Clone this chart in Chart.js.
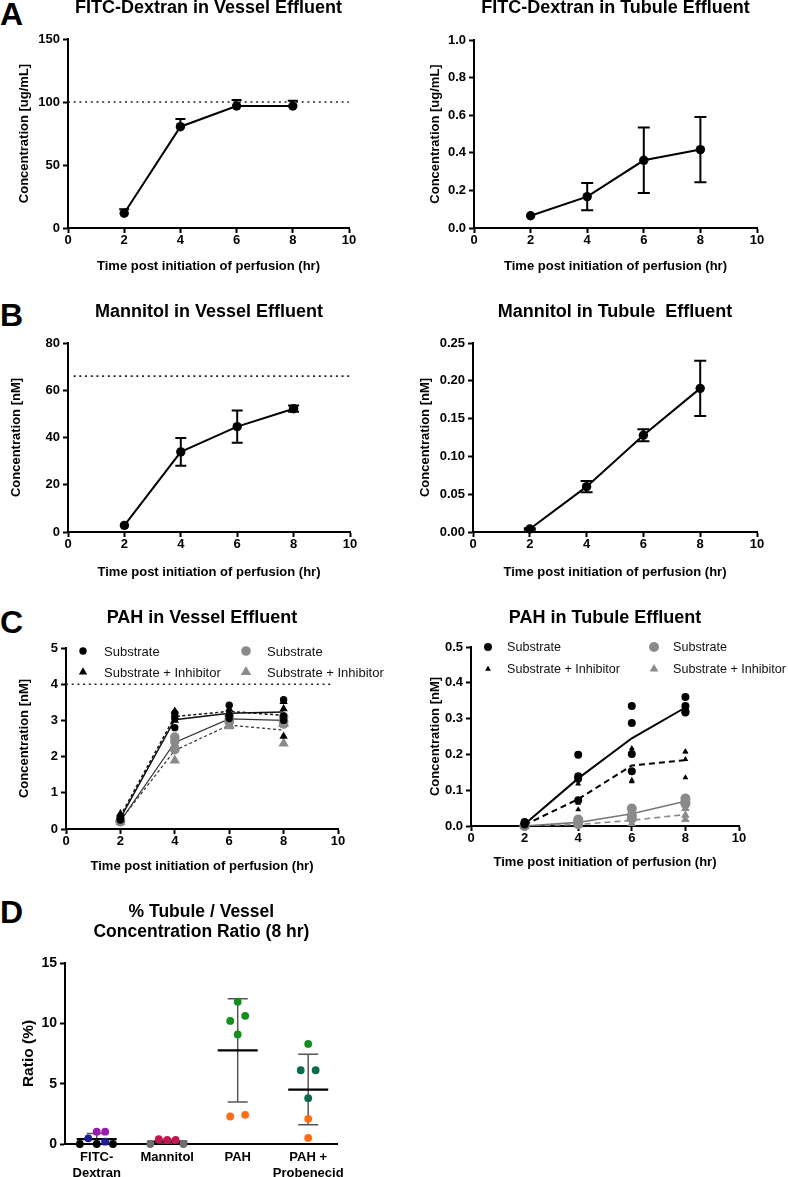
<!DOCTYPE html>
<html>
<head>
<meta charset="utf-8">
<script src="https://cdn.jsdelivr.net/npm/chart.js@4.4.1/dist/chart.umd.min.js"></script>
<style>
  body { margin: 0; background: #fff; width: 788px; height: 1177px; position: relative; overflow: hidden; font-family: "Liberation Sans", Arial, sans-serif; }
  .tag { position: absolute; left: 0; font-size: 32px; line-height: 32px; font-weight: bold; color: #000; }
</style>
</head>
<body>
<div class="tag" style="top:-2px">A</div>
<div class="tag" style="top:299px">B</div>
<div class="tag" style="top:606px">C</div>
<div class="tag" style="top:896px">D</div>
<script>
// ---- data ----
const hours = [2, 4, 6, 8];

// A: FITC-Dextran
const fitcVesselMean = [11.7, 80.4, 96.8, 96.8];
const fitcVesselErr = [3.1, 6.1, 4.8, 4.2];
const fitcVesselRef = 100;
const fitcTubuleMean = [0.065, 0.167, 0.36, 0.417];
const fitcTubuleErr = [0, 0.072, 0.174, 0.173];

// B: Mannitol
const mannitolVesselMean = [2.8, 33.9, 44.6, 52.2];
const mannitolVesselErr = [0, 5.9, 6.8, 1.3];
const mannitolVesselRef = 66;
const mannitolTubuleMean = [0.004, 0.060, 0.128, 0.190];
const mannitolTubuleErr = [0.001, 0.0075, 0.008, 0.0365];

// C: PAH, replicates per time point (black = first set, grey = second set)
const pahVesselSub = [[0.35, 0.3, 0.25], [3.05, 2.8, 3.2], [3.42, 3.15, 3.05], [3.57, 3.12, 3.0]];
const pahVesselInh = [[0.42, 0.35, 0.3], [3.25, 3.16, 3.0], [3.31, 3.2, 3.18], [3.32, 3.52, 2.56]];
const pahVesselSub2 = [[0.2, 0.25, 0.22], [2.54, 2.19, 2.42], [3.02, 2.95, 3.12], [2.9, 2.97, 3.1]];
const pahVesselInh2 = [[0.2, 0.28, 0.25], [1.89, 2.28, 2.32], [2.84, 2.88, 2.85], [2.36, 2.9, 2.92]];
const pahVesselSubMean = [0.3, 3.02, 3.2, 3.23];
const pahVesselInhMean = [0.36, 3.11, 3.25, 3.14];
const pahVesselSub2Mean = [0.22, 2.39, 3.04, 3.0];
const pahVesselInh2Mean = [0.24, 2.17, 2.87, 2.73];
const pahVesselRef = 4;

const pahTubuleSub = [[0.011, 0.006, 0.004, 0.008], [0.199, 0.139, 0.132, 0.072], [0.335, 0.288, 0.201, 0.153], [0.36, 0.335, 0.32, 0.317]];
const pahTubuleInh = [[0.004, 0.003, 0.002], [0.118, 0.072, 0.064, 0.046], [0.217, 0.207, 0.128, 0.124], [0.207, 0.186, 0.135, 0.208]];
const pahTubuleSub2 = [[0, 0, 0], [0.018, 0.011, 0.005], [0.049, 0.021, 0.03], [0.077, 0.067, 0.062]];
const pahTubuleInh2 = [[0, 0], [0.003, 0.005], [0.007, 0.02, 0.018], [0.049, 0.018, 0.03]];
const pahTubuleSubMean = [0.005, 0.133, 0.245, 0.331];
const pahTubuleInhMean = [0.003, 0.075, 0.169, 0.184];
const pahTubuleSub2Mean = [0, 0.01, 0.034, 0.069];
const pahTubuleInh2Mean = [0, 0.004, 0.016, 0.032];

// D: ratio at 8 hr
const ratioGroups = [['FITC-', 'Dextran'], ['Mannitol'], ['PAH'], ['PAH +', 'Probenecid']];
const ratioMean = [0.41, 0.2, 7.76, 4.51];
const ratioSD = [0.47, 0.2, 4.27, 2.92];
const fitcBlack = [0, 0, 0];
const fitcNavy = [0.47, 0.19];
const fitcPurple = [1.02, 1.02];
const mannitolGrey = [0, 0];
const mannitolRed = [0.4, 0.33, 0.33];
const pahGreen = [11.78, 10.2, 10.62, 9.08];
const pahOrange = [2.28, 2.42];
const probGreen = [8.29];
const probTeal = [6.11, 6.11, 3.8];
const probOrange = [2.09, 0.5];

const xTitle = 'Time post initiation of perfusion (hr)';

// ---- helpers ----
Chart.defaults.font.family = "'Liberation Sans', Arial, sans-serif";
Chart.defaults.color = '#000';

const tickFont = { size: 13, weight: 'bold' };
const titleFont = { size: 13, weight: 'bold' };
const GREY = '#8a8a8a';

const errorBarPlugin = {
  id: 'errorBars',
  beforeDatasetsDraw(chart, args, opts) { if (opts.under) drawErrors(chart); },
  afterDatasetsDraw(chart, args, opts) { if (!opts.under) drawErrors(chart); }
};
function drawErrors(chart) {
  const { ctx, chartArea, scales: { x, y } } = chart;
  ctx.save();
  ctx.beginPath();
  ctx.rect(chartArea.left - 20, chartArea.top - 20, chartArea.width + 40, chartArea.height + 20);
  ctx.clip();
  chart.data.datasets.forEach(ds => {
    if (!ds.yErr) return;
    ctx.strokeStyle = ds.errColor || '#000';
    ctx.lineWidth = ds.errWidth || 2;
    const cap = ds.capHalf || 5;
    ds.data.forEach((p, j) => {
      const e = ds.yErr[j];
      if (!e) return;
      const px = x.getPixelForValue(p.x);
      const top = y.getPixelForValue(p.y + e);
      const bot = y.getPixelForValue(ds.errUpOnly ? p.y : p.y - e);
      ctx.beginPath();
      ctx.moveTo(px, top); ctx.lineTo(px, bot);
      ctx.moveTo(px - cap, top); ctx.lineTo(px + cap, top);
      if (!ds.errUpOnly) { ctx.moveTo(px - cap, bot); ctx.lineTo(px + cap, bot); }
      ctx.stroke();
    });
  });
  ctx.restore();
}

function drawMarker(ctx, style, r, x, y) {
  ctx.beginPath();
  if (style === 'triangle') {
    ctx.moveTo(x, y - r);
    ctx.lineTo(x + r * 0.866, y + r * 0.5);
    ctx.lineTo(x - r * 0.866, y + r * 0.5);
    ctx.closePath();
  } else {
    ctx.arc(x, y, r, 0, Math.PI * 2);
  }
  ctx.fill();
}

// 2 x 2 legend placed inside the plot area
const cellLegendPlugin = {
  id: 'cellLegend',
  afterDraw(chart, args, opts) {
    if (!opts.cols) return;
    const { ctx, chartArea } = chart;
    chart.data.datasets.forEach(ds => {
      if (!ds.legendCell) return;
      const mx = chartArea.left + opts.cols[ds.legendCell[0]];
      const my = chartArea.top + opts.rows[ds.legendCell[1]];
      ctx.save();
      ctx.fillStyle = ds.backgroundColor;
      drawMarker(ctx, ds.pointStyle, ds.legendRadius || ds.pointRadius, mx, my);
      ctx.fillStyle = '#111';
      ctx.font = (opts.fontSize || 13) + "px 'Liberation Sans', Arial, sans-serif";
      ctx.textBaseline = 'middle';
      ctx.textAlign = 'left';
      ctx.fillText(ds.label, mx + opts.gap, my + 1);
      ctx.restore();
    });
  }
};

const pts = vals => vals.map((v, i) => ({ x: hours[i], y: v }));
const reps = sets => sets.flatMap((vals, i) => vals.map(v => ({ x: hours[i], y: v })));
const refLine = (v, x0, x1) => [{ x: x0, y: v }, { x: x1, y: v }];

function axisX(opts) {
  return Object.assign({
    type: 'linear', min: 0, max: 10,
    border: { display: true, color: '#000', width: 2 },
    grid: { drawOnChartArea: false, tickLength: 5, tickWidth: 2, tickColor: '#000' },
    ticks: { stepSize: 2, font: tickFont, padding: 0, maxRotation: 0, color: '#000' },
    title: { display: true, text: xTitle, font: titleFont, padding: 0, color: '#000' }
  }, opts);
}
function axisY(min, max, step, text, digits, opts) {
  return Object.assign({
    type: 'linear', min: min, max: max,
    border: { display: true, color: '#000', width: 2 },
    grid: { drawOnChartArea: false, tickLength: 5, tickWidth: 2, tickColor: '#000' },
    ticks: { stepSize: step, font: tickFont, padding: 3, color: '#000',
      callback: v => v.toFixed(digits) },
    title: { display: true, text: text, font: titleFont, padding: 0, color: '#000' }
  }, opts);
}

function panel(geo, datasets, scales, pluginOpts) {
  const lh = geo.titleSize * geo.titleLH;
  const lines = Array.isArray(geo.title) ? geo.title.length : 1;
  const yLh = geo.yTitleSize ? geo.yTitleSize * 1.2 : 15.6;
  const padR = geo.padR || 20;
  const left = Math.round(geo.yTitleX - yLh / 2);
  const top = Math.round(geo.titleY - lh / 2);
  const bottom = Math.round(geo.xTitleY ? geo.xTitleY + 7.8 : geo.B + 40);
  const canvas = document.createElement('canvas');
  canvas.width = Math.round(geo.R + padR - left);
  canvas.height = bottom - top;
  canvas.style.cssText = 'position:absolute;left:' + left + 'px;top:' + top + 'px';
  document.body.appendChild(canvas);

  const yW = geo.L - left;
  const xH = bottom - geo.B;
  scales.x.afterFit = s => { s.height = xH; };
  scales.y.afterFit = s => { s.width = yW; };

  return new Chart(canvas, {
    type: 'scatter',
    data: { datasets: datasets },
    options: {
      responsive: false,
      animation: false,
      layout: { padding: { left: 0, top: 0, right: padR, bottom: 0 } },
      plugins: Object.assign({
        legend: { display: false },
        tooltip: { enabled: false },
        title: {
          display: true, text: geo.title, fullSize: false, color: '#000',
          font: { size: geo.titleSize, weight: 'bold', lineHeight: geo.titleLH },
          padding: { top: 0, bottom: geo.T - top - lines * lh }
        }
      }, pluginOpts || {}),
      scales: scales
    },
    plugins: [errorBarPlugin, cellLegendPlugin]
  });
}

function meanSeries(data, err, extra) {
  return Object.assign({
    data: pts(data), yErr: err, showLine: true, clip: false,
    borderColor: '#000', borderWidth: 2, backgroundColor: '#000',
    pointRadius: 4.7, pointBorderWidth: 0, pointBackgroundColor: '#000'
  }, extra);
}
function refSeries(v, x0, x1) {
  return { data: refLine(v, x0, x1), showLine: true, pointRadius: 0,
    borderColor: '#222', borderWidth: 1.6, borderDash: [2, 3.7] };
}
function repSeries(label, data, style, color, r, cell, legendR) {
  return { label: label, data: reps(data), pointStyle: style, pointRadius: r, clip: false,
    backgroundColor: color, borderColor: color, pointBorderWidth: 0,
    legendCell: cell, legendRadius: legendR };
}
function lineSeries(data, color, width, dash) {
  return { data: pts(data), showLine: true, pointRadius: 0, borderColor: color,
    borderWidth: width, borderDash: dash || [] };
}

// ---- A ----
panel({ L: 68, R: 349, T: 39, B: 228, titleY: 8, xTitleY: 266, yTitleX: 25,
        title: 'FITC-Dextran in Vessel Effluent', titleSize: 18, titleLH: 1.2 },
  [meanSeries(fitcVesselMean, fitcVesselErr, { errUpOnly: true, capHalf: 5 }),
   refSeries(fitcVesselRef, 0, 10)],
  { x: axisX(), y: axisY(0, 150, 50, 'Concentration [ug/mL]', 0) });

panel({ L: 474, R: 757, T: 40, B: 228, titleY: 8, xTitleY: 266, yTitleX: 436,
        title: 'FITC-Dextran in Tubule Effluent', titleSize: 18, titleLH: 1.2 },
  [meanSeries(fitcTubuleMean, fitcTubuleErr, { capHalf: 6 })],
  { x: axisX(), y: axisY(0, 1, 0.2, 'Concentration [ug/mL]', 1) });

// ---- B ----
panel({ L: 68, R: 350, T: 343, B: 532, titleY: 312, xTitleY: 572, yTitleX: 17,
        title: 'Mannitol in Vessel Effluent', titleSize: 18, titleLH: 1.2 },
  [meanSeries(mannitolVesselMean, mannitolVesselErr, { capHalf: 5.5 }),
   refSeries(mannitolVesselRef, 0.2, 10)],
  { x: axisX(), y: axisY(0, 80, 20, 'Concentration [nM]', 0) });

panel({ L: 473, R: 757, T: 343, B: 532, titleY: 312, xTitleY: 572, yTitleX: 426,
        title: 'Mannitol in Tubule  Effluent', titleSize: 18, titleLH: 1.2 },
  [meanSeries(mannitolTubuleMean, mannitolTubuleErr, { capHalf: 6 })],
  { x: axisX(), y: axisY(0, 0.25, 0.05, 'Concentration [nM]', 2) });

// ---- C ----
panel({ L: 66, R: 338, T: 648, B: 829, titleY: 618, xTitleY: 866, yTitleX: 25, padR: 55,
        title: 'PAH in Vessel Effluent', titleSize: 18, titleLH: 1.2 },
  [repSeries('Substrate', pahVesselSub, 'circle', '#000', 3.7, [0, 0], 3.7),
   repSeries('Substrate + Inhibitor', pahVesselInh, 'triangle', '#000', 4.8, [0, 1], 4.8),
   repSeries('Substrate', pahVesselSub2, 'circle', GREY, 4.8, [1, 0], 4.8),
   repSeries('Substrate + Inhibitor', pahVesselInh2, 'triangle', GREY, 6, [1, 1], 6),
   lineSeries(pahVesselSubMean, '#111', 1.5),
   lineSeries(pahVesselInhMean, '#111', 1.5, [3, 2.5]),
   lineSeries(pahVesselSub2Mean, '#333', 1.2),
   lineSeries(pahVesselInh2Mean, '#333', 1.2, [3, 2.5]),
   refSeries(pahVesselRef, 0, 9.8)],
  { x: axisX(), y: axisY(0, 5, 1, 'Concentration [nM]', 0) },
  { cellLegend: { cols: [17, 180], rows: [3, 24], gap: 21 } });

panel({ L: 471, R: 739, T: 647, B: 826, titleY: 618, xTitleY: 862, yTitleX: 436, padR: 49,
        title: 'PAH in Tubule Effluent', titleSize: 18, titleLH: 1.2 },
  [repSeries('Substrate', pahTubuleSub, 'circle', '#000', 4, [0, 0], 4),
   repSeries('Substrate + Inhibitor', pahTubuleInh, 'triangle', '#000', 3.4, [0, 1], 3.4),
   repSeries('Substrate', pahTubuleSub2, 'circle', GREY, 5, [1, 0], 5),
   repSeries('Substrate + Inhibitor', pahTubuleInh2, 'triangle', GREY, 5, [1, 1], 5),
   lineSeries(pahTubuleSubMean, '#000', 2),
   lineSeries(pahTubuleInhMean, '#000', 2, [6, 4]),
   lineSeries(pahTubuleSub2Mean, '#777', 1.6),
   lineSeries(pahTubuleInh2Mean, '#888', 1.6, [6, 4])],
  { x: axisX(), y: axisY(0, 0.5, 0.1, 'Concentration [nM]', 1) },
  { cellLegend: { cols: [17, 183], rows: [0, 22], gap: 19, fontSize: 12.6 } });

// ---- D ----
const jitter = {
  fitcBlack: [-0.24, 0, 0.23], fitcNavy: [-0.12, 0.12], fitcPurple: [0, 0.12],
  mannitolGrey: [-0.24, 0.23], mannitolRed: [-0.12, 0, 0.12],
  pahGreen: [0, -0.106, 0.106, 0], pahOrange: [-0.106, 0.106],
  probGreen: [0], probTeal: [-0.106, 0.106, 0], probOrange: [0, 0]
};
function dots(group, values, offs, color) {
  return { data: values.map((v, i) => ({ x: group + offs[i], y: v })), clip: false,
    pointRadius: 3.9, pointBorderWidth: 0, backgroundColor: color, borderColor: color };
}
panel({ L: 65, R: 340, T: 963, B: 1144, titleY: 913, yTitleX: 28, yTitleSize: 15.5,
        title: ['% Tubule / Vessel', 'Concentration Ratio (8 hr)'], titleSize: 17.5, titleLH: 1.1 },
  [dots(1, fitcBlack, jitter.fitcBlack, '#000'),
   dots(1, fitcNavy, jitter.fitcNavy, '#1b1b96'),
   dots(1, fitcPurple, jitter.fitcPurple, '#9a1ab0'),
   dots(2, mannitolGrey, jitter.mannitolGrey, '#6e6e6e'),
   dots(2, mannitolRed, jitter.mannitolRed, '#c3154f'),
   dots(3, pahGreen, jitter.pahGreen, '#138f1e'),
   dots(3, pahOrange, jitter.pahOrange, '#ff6d12'),
   dots(4, probGreen, jitter.probGreen, '#138f1e'),
   dots(4, probTeal, jitter.probTeal, '#0b6b4b'),
   dots(4, probOrange, jitter.probOrange, '#ff6d12'),
   { data: ratioMean.map((m, i) => ({ x: i + 1, y: m })), yErr: ratioSD, clip: false,
     errColor: '#555', errWidth: 1.5, capHalf: 10,
     pointStyle: 'line', pointRadius: 20, pointBorderWidth: 2.2, pointBorderColor: '#000' }],
  {
    x: {
      type: 'linear', min: 0.55, max: 4.42,
      border: { display: true, color: '#000', width: 2 },
      grid: { display: false, drawTicks: false },
      afterBuildTicks: s => { s.ticks = ratioGroups.map((g, i) => ({ value: i + 1 })); },
      ticks: { font: { size: 13, weight: 'bold' }, padding: 6, autoSkip: false, maxRotation: 0,
        color: '#000', callback: v => ratioGroups[v - 1] }
    },
    y: axisY(0, 15, 5, 'Ratio (%)', 0, {
      ticks: { stepSize: 5, font: { size: 14, weight: 'bold' }, padding: 3, color: '#000' },
      title: { display: true, text: 'Ratio (%)', font: { size: 15.5, weight: 'bold' }, padding: 0, color: '#000' }
    })
  },
  { errorBars: { under: true } });
</script>
</body>
</html>
